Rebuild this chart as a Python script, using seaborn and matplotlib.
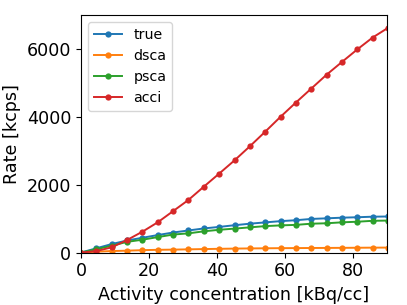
import numpy as np
import pandas as pd
import matplotlib
matplotlib.use('Agg')
import matplotlib.pyplot as plt
import seaborn as sns

# activity concentration [kBq/cc]
activity = [0, 4.52, 9.04, 13.56, 18.08, 22.6, 27.12, 31.64, 36.16, 40.68, 45.2,
            49.72, 54.24, 58.76, 63.28, 67.8, 72.32, 76.84, 81.36, 85.88, 90.4]

# rates [kcps]
true_rate = [0, 125, 250, 355, 435, 515, 590, 650, 710, 755, 805,
             850, 888, 925, 952, 990, 1008, 1027, 1040, 1056, 1062]
dsca_rate = [0, 25, 44, 55, 70, 80, 86, 94, 102, 110, 116,
             121, 125, 129, 131, 134, 136, 138, 141, 144, 146]
psca_rate = [0, 98, 200, 315, 378, 455, 530, 565, 625, 670, 705,
             742, 778, 800, 815, 850, 862, 890, 908, 935, 942]
acci_rate = [0, 44, 153, 369, 614, 891, 1220, 1550, 1940, 2325, 2715,
             3130, 3560, 4000, 4420, 4830, 5240, 5615, 5985, 6335, 6620]

series = {'true': true_rate, 'dsca': dsca_rate, 'psca': psca_rate, 'acci': acci_rate}

fig = plt.figure(figsize=(4.07, 3.05), dpi=100)
ax = fig.add_axes([0.199, 0.172, 0.751, 0.779])

for name, vals in series.items():
    sns.lineplot(x=activity, y=vals, marker='o', markersize=4.5, markeredgewidth=0,
                 linewidth=1.4, label=name, ax=ax)

ax.set_xlim(0, 90)
ax.set_ylim(0, 7000)
ax.set_xticks([0, 20, 40, 60, 80])
ax.set_yticks([0, 2000, 4000, 6000])
ax.tick_params(labelsize=12.6)
ax.set_xlabel('Activity concentration [kBq/cc]', fontsize=12.6)
ax.set_ylabel('Rate [kcps]', fontsize=12.6)
ax.legend(loc='upper left', fontsize=10.2)

fig.savefig('out.png', dpi=100)
